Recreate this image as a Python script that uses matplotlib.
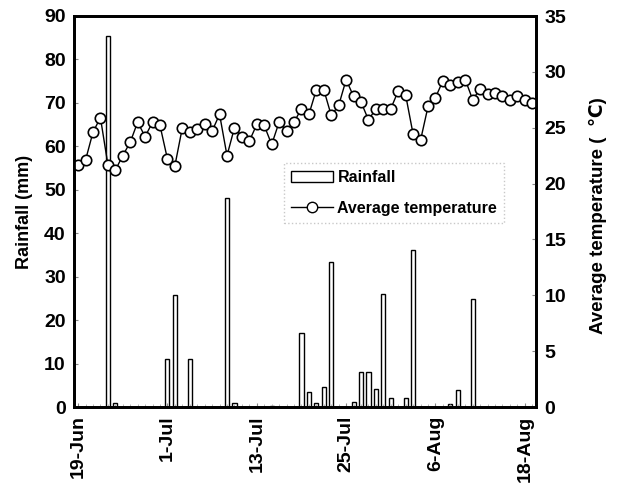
import numpy as np
import matplotlib
matplotlib.use("Agg")
import matplotlib.pyplot as plt
from matplotlib.patches import Patch
from matplotlib.lines import Line2D

plt.rcParams['font.family'] = ['Liberation Sans', 'DejaVu Sans']
plt.rcParams['font.weight'] = 'bold'

# Daily data, 19-Jun to 19-Aug
temperature = [21.7, 22.1, 24.6, 25.9, 21.7, 21.2, 22.5, 23.7, 25.5, 24.2,
               25.5, 25.2, 22.2, 21.6, 25.0, 24.6, 24.9, 25.3, 24.7, 26.2,
               22.5, 25.0, 24.2, 23.8, 25.3, 25.2, 23.5, 25.5, 24.7, 25.5,
               26.7, 26.2, 28.4, 28.4, 26.1, 27.0, 29.3, 27.8, 27.3, 25.7,
               26.7, 26.7, 26.7, 28.3, 27.9, 24.4, 23.9, 26.9, 27.7, 29.2,
               28.8, 29.1, 29.3, 27.5, 28.5, 28.0, 28.1, 27.8, 27.5, 27.8,
               27.5, 27.2]
rainfall = [0, 0, 0, 0, 85.5, 1.0, 0, 0, 0, 0,
            0, 0, 11.0, 25.8, 0, 11.0, 0, 0, 0, 0,
            48.2, 1.0, 0, 0, 0, 0, 0.2, 0, 0, 0,
            17.0, 3.5, 1.0, 4.7, 33.4, 0, 0, 1.1, 8.1, 8.1,
            4.1, 26.0, 2.1, 0, 2.1, 36.1, 0, 0, 0, 0,
            0.7, 3.9, 0, 24.9, 0, 0, 0, 0, 0, 0,
            0, 0]
tick_days = [0, 12, 24, 36, 48, 60]
tick_labels = ['19-Jun', '1-Jul', '13-Jul', '25-Jul', '6-Aug', '18-Aug']

x = np.arange(len(temperature))

fig = plt.figure(figsize=(6.18, 4.86), dpi=100)
ax = fig.add_axes([74/618, 1-407/486, (536-74)/618, (407-16)/486])
ax2 = ax.twinx()

ax.bar(x, rainfall, width=0.55, color='white', edgecolor='black', linewidth=1.0)
ax2.plot(x, temperature, color='black', linewidth=1.0, marker='o', markersize=7.5,
         markerfacecolor='white', markeredgecolor='black', markeredgewidth=1.2)

ax.set_xlim(-0.55, 61.5)
ax.set_ylim(0, 90)
ax2.set_ylim(0, 35)
ax.set_yticks(np.arange(0, 91, 10))
ax2.set_yticks(np.arange(0, 36, 5))
ax.set_xticks(tick_days)
ax.set_xticklabels(tick_labels, rotation=90, fontsize=14, fontweight='bold')
ax.set_xticks(x, minor=True)
for lab in ax.get_yticklabels():
    lab.set_fontsize(14); lab.set_fontweight('bold')
for lab in ax2.get_yticklabels():
    lab.set_fontsize(14); lab.set_fontweight('bold')

ax.tick_params(axis='both', which='major', direction='in', length=3, width=0.8,
               color='#888888', pad=6)
ax.tick_params(axis='x', which='minor', direction='in', length=2.5, width=0.6,
               color='#aaaaaa')
ax2.tick_params(axis='y', direction='in', length=3, width=0.8, color='#888888', pad=6)

for a in (ax, ax2):
    for s in a.spines.values():
        s.set_linewidth(2.0)
        s.set_color('black')

ax.set_ylabel('Rainfall (mm)', fontsize=13, fontweight='bold', labelpad=8)
ax2.set_ylabel('Average temperature (  \u2103)', fontsize=13.5, fontweight='bold')
ax2.yaxis.set_label_coords(1.114, 0.49)

handles = [Patch(facecolor='white', edgecolor='black', linewidth=1.0),
           Line2D([], [], color='black', linewidth=1.0, marker='o', markersize=7.5,
                  markerfacecolor='white', markeredgecolor='black')]
leg = ax2.legend(handles, ['Rainfall', 'Average temperature'], loc='upper left',
                 bbox_to_anchor=(0.437, 0.645), fontsize=11.5, frameon=True,
                 fancybox=False, handlelength=2.6, handletextpad=0.3,
                 borderpad=0.45, labelspacing=1.0)
leg.get_frame().set_edgecolor('#bbbbbb')
leg.get_frame().set_linestyle(':')
leg.get_frame().set_linewidth(1.0)
for t in leg.get_texts():
    t.set_fontweight('bold')

fig.savefig('out.png', dpi=100)
